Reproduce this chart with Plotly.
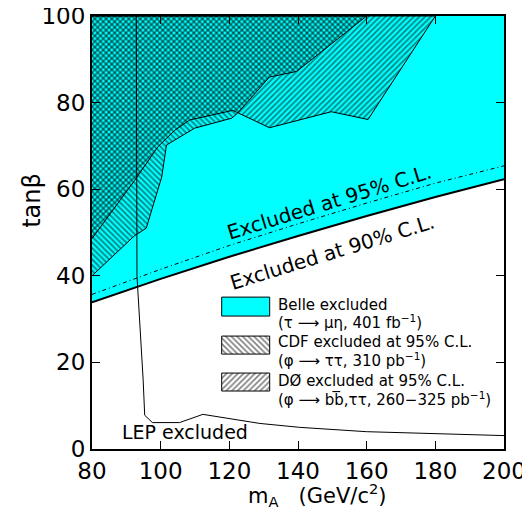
import plotly.graph_objects as go

# ---------------- data ----------------
mA_grid = [80, 100, 120, 140, 160, 180, 200]
belle_90 = [33.9, 39.3, 44.4, 49.2, 53.8, 58.2, 62.3]   # Belle 90% C.L. bound
belle_95 = [35.7, 41.5, 47.0, 52.0, 56.8, 61.4, 65.4]   # Belle 95% C.L. bound

cdf_mA = [80, 92.3, 95.8, 100.3, 101.7, 109.9, 120.7, 122.3, 131.7, 139.6, 160]
cdf_tb = [40, 49.2, 51.0, 62.8, 70.2, 74.1, 76.4, 77.5, 85.9, 87.2, 100]

d0_mA = [80, 92.4, 99.2, 104.1, 108.5, 121, 131.7, 149.7, 160.4, 180]
d0_tb = [48.6, 62, 69.8, 73.6, 76, 78.2, 74.2, 77.9, 76.1, 100]

lep_mA = [92.9, 93.1, 94.9, 95.35, 97.6, 105.5, 112.3, 128.9, 140.5, 159.9, 200]
lep_tb = [100, 40, 15.9, 7.8, 6.1, 6.1, 8.0, 5.9, 5.0, 4.0, 3.1]

x_ticks = [80, 100, 120, 140, 160, 180, 200]
y_ticks = [0, 20, 40, 60, 80, 100]
X_MIN, X_MAX = 80, 200
TB_MAX = 100

CYAN = "#00FFFF"
FONT = "DejaVu Sans"
HATCH_SIZE = 4
HATCH_SOLID = 0.4

fig = go.Figure()

# Belle excluded region (above 90% line)
fig.add_trace(go.Scatter(
    x=mA_grid + [X_MAX, X_MIN], y=belle_90 + [TB_MAX, TB_MAX],
    fill="toself", fillcolor=CYAN, mode="none", hoverinfo="skip", showlegend=False))

# CDF excluded (backslash hatch)
fig.add_trace(go.Scatter(
    x=cdf_mA + [X_MIN], y=cdf_tb + [TB_MAX],
    fill="toself", fillcolor="rgba(0,0,0,0)",
    fillpattern=dict(shape="\\", fgcolor="black", bgcolor="rgba(0,0,0,0)",
                     size=HATCH_SIZE, solidity=HATCH_SOLID),
    mode="lines", line=dict(color="black", width=1), hoverinfo="skip", showlegend=False))

# D0 excluded (slash hatch)
fig.add_trace(go.Scatter(
    x=d0_mA + [X_MIN], y=d0_tb + [TB_MAX],
    fill="toself", fillcolor="rgba(0,0,0,0)",
    fillpattern=dict(shape="/", fgcolor="black", bgcolor="rgba(0,0,0,0)",
                     size=HATCH_SIZE, solidity=HATCH_SOLID),
    mode="lines", line=dict(color="black", width=1), hoverinfo="skip", showlegend=False))

# Belle 95% line (dash-dot) and 90% line (solid)
fig.add_trace(go.Scatter(x=mA_grid, y=belle_95, mode="lines",
                         line=dict(color="black", width=1, dash="4px,3px,1px,3px"),
                         hoverinfo="skip", showlegend=False))
fig.add_trace(go.Scatter(x=mA_grid, y=belle_90, mode="lines",
                         line=dict(color="black", width=2),
                         hoverinfo="skip", showlegend=False))

# LEP excluded boundary
fig.add_trace(go.Scatter(x=lep_mA, y=lep_tb, mode="lines",
                         line=dict(color="black", width=1),
                         hoverinfo="skip", showlegend=False))

# ---------------- legend icons (overlay axes in paper-like units) -------------
def box(x0, x1, y0, y1):
    return [x0, x1, x1, x0, x0], [y0, y0, y1, y1, y0]

bx, by = box(0.3148, 0.4313, 0.307, 0.3508)
fig.add_trace(go.Scatter(x=bx, y=by, xaxis="x2", yaxis="y2", fill="toself",
                         fillcolor=CYAN, mode="lines", line=dict(color="black", width=1),
                         hoverinfo="skip", showlegend=False))
bx, by = box(0.3148, 0.4313, 0.2192, 0.2608)
fig.add_trace(go.Scatter(x=bx, y=by, xaxis="x2", yaxis="y2", fill="toself",
                         fillcolor="rgba(0,0,0,0)",
                         fillpattern=dict(shape="\\", fgcolor="black", bgcolor="white",
                                          size=HATCH_SIZE, solidity=HATCH_SOLID),
                         mode="lines", line=dict(color="black", width=1),
                         hoverinfo="skip", showlegend=False))
bx, by = box(0.3148, 0.4313, 0.1339, 0.1754)
fig.add_trace(go.Scatter(x=bx, y=by, xaxis="x2", yaxis="y2", fill="toself",
                         fillcolor="rgba(0,0,0,0)",
                         fillpattern=dict(shape="/", fgcolor="black", bgcolor="white",
                                          size=HATCH_SIZE, solidity=HATCH_SOLID),
                         mode="lines", line=dict(color="black", width=1),
                         hoverinfo="skip", showlegend=False))

legend_lines = [
    ("Belle excluded", 0.3323),
    ("(τ ⟶ μη, 401 fb<sup>−1</sup>)", 0.2931),
    ("CDF excluded at 95% C.L.", 0.2469),
    ("(φ ⟶ ττ, 310 pb<sup>−1</sup>)", 0.2054),
    ("DØ excluded at 95% C.L.", 0.1569),
    ("(φ ⟶ bb\u0305,ττ, 260−325 pb<sup>−1</sup>)", 0.1154),
]
annotations = []
for txt, yy in legend_lines:
    annotations.append(dict(text=txt, x=0.4459, y=yy, xref="paper", yref="paper",
                            xanchor="left", yanchor="middle", showarrow=False,
                            font=dict(family=FONT, size=15, color="black")))

annotations += [
    dict(text="Excluded at 95% C.L.", x=149.2, y=57.0, xref="x", yref="y",
         textangle=-17, showarrow=False, font=dict(family=FONT, size=20, color="black")),
    dict(text="Excluded at 90% C.L.", x=150.1, y=45.5, xref="x", yref="y",
         textangle=-17, showarrow=False, font=dict(family=FONT, size=20, color="black")),
    dict(text="LEP excluded", x=107.2, y=3.9, xref="x", yref="y",
         showarrow=False, font=dict(family=FONT, size=19, color="black")),
    dict(text="tanβ", x=-0.146, y=0.575, xref="paper", yref="paper", textangle=-90,
         xanchor="center", yanchor="middle",
         showarrow=False, font=dict(family=FONT, size=24, color="black")),
    dict(text="m<sub>A</sub>   (GeV/c<sup>2</sup>)", x=0.548, y=-0.106, xref="paper",
         yref="paper", xanchor="center", yanchor="middle", showarrow=False,
         font=dict(family=FONT, size=21, color="black")),
]

axis_common = dict(ticks="inside", ticklen=8, tickwidth=1, tickcolor="black",
                   showline=True, linewidth=2, linecolor="black", mirror="ticks",
                   showgrid=False, zeroline=False, automargin=False,
                   ticklabeloverflow="allow",
                   tickfont=dict(family=FONT, size=23, color="black"))

fig.update_layout(
    width=530, height=514,
    margin=dict(l=84, r=34, t=8, b=73, autoexpand=False),
    paper_bgcolor="white", plot_bgcolor="white",
    xaxis=dict(range=[X_MIN, X_MAX], tickvals=x_ticks, **axis_common),
    yaxis=dict(range=[0, TB_MAX], tickvals=y_ticks, **axis_common),
    xaxis2=dict(range=[0, 1], overlaying="x", visible=False),
    yaxis2=dict(range=[0, 1], overlaying="y", visible=False),
    annotations=annotations,
    showlegend=False,
)

fig.write_html("out.html")
